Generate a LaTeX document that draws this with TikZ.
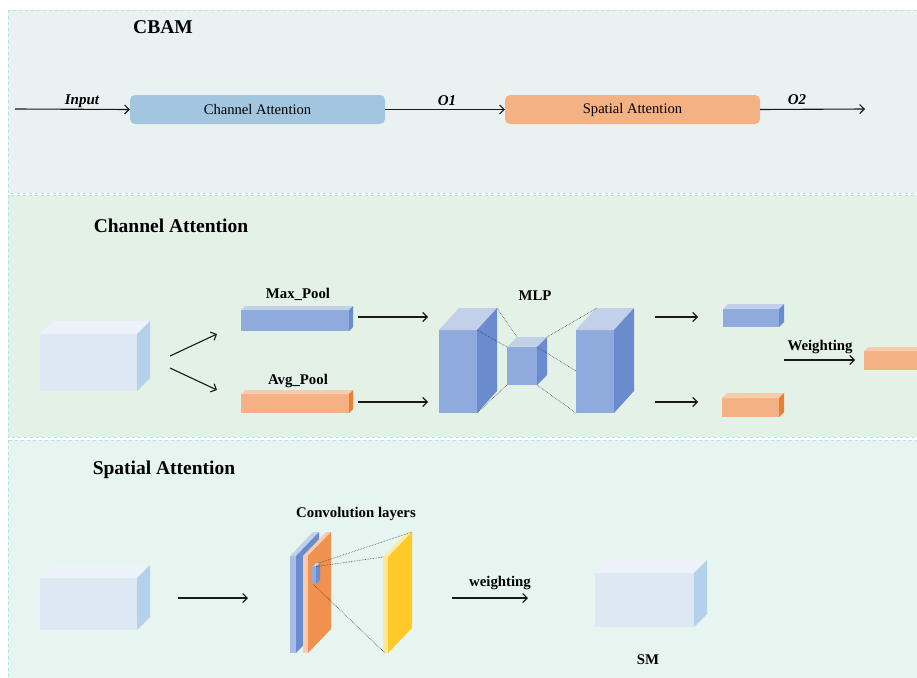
\documentclass[tikz,border=0pt]{standalone}
\usepackage{fontspec}
\setmainfont{Liberation Serif}
\usetikzlibrary{arrows.meta}
\definecolor{pone}{HTML}{E9F2F1}
\definecolor{ptwo}{HTML}{E3F1E7}
\definecolor{pthree}{HTML}{E6F5F0}
\definecolor{pborder}{HTML}{A8E4EA}
\definecolor{cabox}{HTML}{A3C6E0}
\definecolor{sabox}{HTML}{F4B183}
\definecolor{lfront}{HTML}{DEE8F4}
\definecolor{ltop}{HTML}{EDF2FA}
\definecolor{lside}{HTML}{B4D1EB}
\definecolor{bfront}{HTML}{8FAADC}
\definecolor{btop}{HTML}{C2D0EA}
\definecolor{bside}{HTML}{6A8CCF}
\definecolor{bslab}{HTML}{A9BCE5}
\definecolor{ofront}{HTML}{F4B183}
\definecolor{otop}{HTML}{F8CBAD}
\definecolor{oside}{HTML}{ED7D31}
\definecolor{oside2}{HTML}{F0914F}
\definecolor{yfront}{HTML}{FFE699}
\definecolor{ytop}{HTML}{FFE9A8}
\definecolor{yside}{HTML}{FFCA28}
\newcommand{\cuboidbox}[9]{%
  \fill[#7] (#1,#2) rectangle ++(#3,#4);
  \fill[#8] (#1,#2) -- ++(#5,-#6) -- ++(#3,0) -- ++(-#5,#6) -- cycle;
  \fill[#9] (#1+#3,#2) -- ++(#5,-#6) -- ++(0,#4) -- ++(-#5,#6) -- cycle;
}
\begin{document}
\begin{tikzpicture}[x=1pt,y=-1pt,
  panel/.style={draw=pborder, dashed, line width=0.8pt},
  arr/.style={-{Straight Barb[length=4.5pt,width=9pt,line width=1.1pt]}, line width=1.1pt, black!90},
  dots/.style={densely dotted, line width=0.6pt, black!75},
  title/.style={font=\fontsize{19.5}{22}\selectfont\bfseries},
  lbl/.style={font=\fontsize{14.8}{17}\selectfont\bfseries},
  ital/.style={font=\fontsize{15}{17}\selectfont\bfseries\itshape},
  blk/.style={rounded corners=5pt, minimum width=255pt, minimum height=29pt, font=\fontsize{14.6}{17}\selectfont, inner sep=0pt}]
\useasboundingbox (0,0) rectangle (917,677);
\clip (0,0) rectangle (917,677);
\fill[white] (0,0) rectangle (917,677);
% panels
\path[panel, fill=pone] (8,10) rectangle (930,193);
\path[panel, fill=ptwo] (8,195) rectangle (930,437);
\path[panel, fill=pthree] (8,440) rectangle (930,690);

% ---------- CBAM ----------
\node[title] (tcbam) at (163,27) {CBAM};
\coordinate (in0) at (15,109);
\node[blk, fill=cabox] (ca) at (257.5,109.5) {Channel Attention};
\node[blk, fill=sabox] (sa) at (632.5,109.5) {Spatial Attention};
\coordinate (out0) at (865,109);
\draw[arr] (in0) -- (ca.west);
\draw[arr] (ca.east) -- (sa.west);
\draw[arr] (sa.east) -- (out0);
\node[ital] (tin) at (82,101) {Input};
\node[ital] (to1) at (447,101) {O1};
\node[ital] (to2) at (797,100) {O2};

% ---------- Channel Attention ----------
\node[title] (tch) at (171,226) {Channel Attention};
\cuboidbox{40}{334}{97}{57}{13}{13}{lfront}{ltop}{lside}
\coordinate (ca1) at (170,356);
\coordinate (ca2) at (217,334);
\coordinate (ca3) at (170,368);
\coordinate (ca4) at (217,390);
\draw[arr] (ca1) -- (ca2);
\draw[arr] (ca3) -- (ca4);
% pools
\node[lbl] (tmax) at (298,294) {Max\_Pool};
\cuboidbox{241}{310}{108}{21}{4}{4}{bfront}{btop}{bside}
\node[lbl] (tavg) at (298,381) {Avg\_Pool};
\cuboidbox{241}{394}{108}{19}{4}{4}{ofront}{otop}{oside}
\coordinate (pa1) at (358,317);
\coordinate (pa2) at (428,317);
\coordinate (pa3) at (358,402);
\coordinate (pa4) at (428,402);
\draw[arr] (pa1) -- (pa2);
\draw[arr] (pa3) -- (pa4);
% MLP
\node[lbl] (tmlp) at (535,296) {MLP};
\cuboidbox{439}{330}{38}{83}{20}{22}{bfront}{btop}{bside}
\cuboidbox{507}{347}{30}{38}{10}{10}{bfront}{btop}{bside}
\cuboidbox{576}{330}{38}{83}{20}{22}{bfront}{btop}{bside}
\draw[dots] (497,308) -- (517,337);
\draw[dots] (477,330) -- (507,347);
\draw[dots] (477,413) -- (507,385);
\draw[dots] (547,337) -- (597,308);
\draw[dots] (537,347) -- (576,371);
\draw[dots] (537,385) -- (576,413);
\coordinate (ma1) at (655,317);
\coordinate (ma2) at (698,317);
\coordinate (ma3) at (655,402);
\coordinate (ma4) at (698,402);
\draw[arr] (ma1) -- (ma2);
\draw[arr] (ma3) -- (ma4);
\cuboidbox{723}{309}{56}{18}{5}{5}{bfront}{btop}{bside}
\cuboidbox{722}{398}{57}{19}{5}{5}{ofront}{otop}{oside}
\node[lbl] (tw) at (820,347) {Weighting};
\coordinate (wa1) at (784,360);
\coordinate (wa2) at (855,360);
\draw[arr] (wa1) -- (wa2);
\cuboidbox{864}{351}{70}{19}{4}{4}{ofront}{otop}{oside}

% ---------- Spatial Attention ----------
\node[title] (tsp) at (164,470) {Spatial Attention};
\cuboidbox{40}{578}{97}{52}{13}{13}{lfront}{ltop}{lside}
\coordinate (sa1) at (178,598);
\coordinate (sa2) at (248,598);
\draw[arr] (sa1) -- (sa2);
\node[lbl] (tconv) at (356,514) {Convolution layers};
\cuboidbox{290}{556}{6}{97}{23}{24}{bslab}{btop}{bside}
\cuboidbox{303}{556}{5}{97}{23}{24}{otop}{otop}{oside2}
\cuboidbox{383}{557}{5}{96}{24}{25}{yfront}{ytop}{yside}
\cuboidbox{312}{567}{4}{17}{4}{4}{bfront}{btop}{bside}
\draw[dots] (319,563) -- (412,532);
\draw[dots] (313,567) -- (383,557);
\draw[dots] (313,584) -- (385,653);
\node[lbl] (twl) at (500,583) {weighting};
\coordinate (sw1) at (452,598);
\coordinate (sw2) at (528,598);
\draw[arr] (sw1) -- (sw2);
\cuboidbox{595}{573}{99}{54}{13}{13}{lfront}{ltop}{lside}
\node[lbl] (tsm) at (648,660) {SM};
\end{tikzpicture}
\end{document}
